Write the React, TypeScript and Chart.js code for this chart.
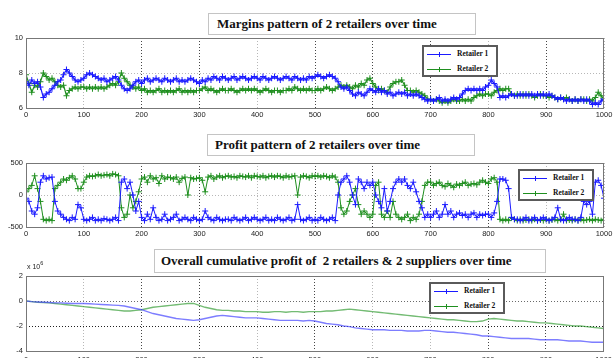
import React, { useEffect, useRef } from "react";
import { Chart, registerables } from "chart.js";
Chart.register(...registerables);

// ---------- data ----------
const SERIES_NAMES = ["Retailer 1", "Retailer 2"];
const TITLES = [
  "Margins pattern of 2 retailers over time",
  "Profit pattern of 2 retailers over time",
  "Overall cumulative profit of  2 retailers & 2 suppliers over time",
];
const X_TICKS = [0, 100, 200, 300, 400, 500, 600, 700, 800, 900, 1000];
const STEP_FAST = 5; // time step between samples (margins / profit)
const STEP_CUM = 10; // time step between samples (cumulative)

const marginR1 = [
  7.5, 7.3, 7.6, 7.4, 7.5, 7.2, 6.6, 6.8, 6.9, 7.1,
  7.3, 7.5, 7.6, 7.9, 8.2, 8.0, 7.8, 7.6, 7.5, 7.6,
  7.7, 7.9, 8.0, 7.9, 7.8, 7.7, 7.6, 7.7, 7.5, 7.6,
  7.7, 7.8, 7.6, 7.3, 7.1, 7.0, 7.1, 7.3, 7.5, 7.6,
  7.4, 7.6, 7.7, 7.5, 7.6, 7.7, 7.6, 7.5, 7.7, 7.6,
  7.5, 7.6, 7.7, 7.5, 7.6, 7.5, 7.6, 7.7, 7.6, 7.5,
  7.4, 7.6, 7.5, 7.7, 7.6, 7.8, 7.7, 7.6, 7.8, 7.7,
  7.6, 7.7, 7.8, 7.6, 7.7, 7.8, 7.7, 7.6, 7.7, 7.8,
  7.7, 7.6, 7.8, 7.7, 7.6, 7.7, 7.8, 7.7, 7.6, 7.7,
  7.8, 7.7, 7.6, 7.8, 7.7, 7.6, 7.7, 7.6, 7.8, 7.7,
  7.8, 7.9, 7.8, 7.7, 7.8, 7.9, 7.8, 7.7, 7.5, 7.2,
  7.1, 7.2, 7.0, 6.8, 6.7, 6.9, 6.8, 6.7, 6.9, 7.1,
  7.0, 6.9, 7.1, 6.9, 7.0, 6.8, 6.9, 6.7, 6.8, 6.9,
  6.8, 6.9, 6.7, 6.8, 6.7, 6.8, 6.7, 6.6, 6.5, 6.4,
  6.5, 6.4, 6.5, 6.6, 6.4, 6.5, 6.4, 6.5, 6.6, 6.5,
  6.6, 6.8, 7.0, 7.1, 7.0, 7.1, 7.0, 7.1, 7.0, 7.2,
  7.3, 7.6, 7.4, 7.2, 6.6, 6.7, 6.6, 6.7, 6.8, 6.7,
  6.7, 6.8, 6.7, 6.8, 6.7, 6.8, 6.7, 6.8, 6.7, 6.8,
  6.7, 6.8, 6.7, 6.6, 6.5, 6.6, 6.5, 6.4, 6.5, 6.4,
  6.5, 6.4, 6.5, 6.4, 6.5, 6.4, 6.2, 6.3, 6.2, 6.4,
  6.5,
];
const marginR2 = [
  7.9, 7.4, 6.9, 7.3, 7.2, 7.5, 8.0, 7.8, 7.6, 7.7,
  7.5, 7.3, 7.2, 7.3, 6.7, 7.0, 7.1, 7.2, 7.1, 7.2,
  7.2, 7.1, 7.2, 7.1, 7.2, 7.1, 7.2, 7.1, 7.2, 7.3,
  7.4, 7.3, 7.5, 8.0, 7.7, 7.5, 7.3, 7.2, 7.1, 7.2,
  7.0, 7.1, 6.9, 7.0, 6.9, 7.0, 7.1, 6.9, 7.0, 6.9,
  7.0, 6.9, 7.0, 7.1, 6.9, 7.0, 6.9, 7.0, 6.9, 7.0,
  7.0, 7.1, 7.2, 7.0, 7.1, 7.0, 6.9, 7.0, 7.1, 7.0,
  7.0, 7.1, 7.0, 6.9, 7.0, 7.1, 7.0, 7.1, 7.0, 7.1,
  7.0, 6.9, 7.0, 7.1, 7.0, 6.9, 7.0, 7.0, 6.9, 7.0,
  7.0, 7.1, 7.0, 7.2, 7.1, 7.0, 7.1, 7.0, 7.1, 7.0,
  7.0, 7.1, 7.0, 7.1, 7.2, 7.1, 7.0, 7.1, 7.2, 7.3,
  7.2, 7.3, 7.2, 7.1, 7.3, 7.2, 7.4, 7.3, 7.6, 7.7,
  7.4, 7.2, 7.0, 7.1, 7.0, 6.9, 7.2, 7.4, 7.5, 7.5,
  7.6, 7.3, 7.0, 7.0, 6.9, 7.0, 6.9, 6.8, 6.7, 6.5,
  6.5, 6.4, 6.5, 6.4, 6.3, 6.4, 6.3, 6.4, 6.5, 6.4,
  6.4, 6.5, 6.4, 6.5, 6.4, 6.6, 6.7, 6.8, 6.7, 6.8,
  6.8, 6.7, 6.9, 7.0, 7.1, 7.0, 7.1, 7.1, 6.8, 6.7,
  6.8, 6.7, 6.8, 6.7, 6.8, 6.7, 6.6, 6.7, 6.8, 6.7,
  6.7, 6.6, 6.7, 6.6, 6.5, 6.6, 6.5, 6.6, 6.5, 6.4,
  6.5, 6.4, 6.5, 6.5, 6.4, 6.5, 6.4, 6.6, 6.9, 6.7,
  6.5,
];

const profitR1 = [
  -50, -100, -250, -300, -200, 200, 300, 250, 270, 280,
  -100, -250, -300, -350, -380, -400, -350, -380, -150, -200,
  -380, -400, -380, -350, -400, -380, -400, -370, -380, -400,
  -380, -350, -400, 200, 250, 100, 200, 0, -250, -100,
  -350, -400, -300, -380, -200, -350, -400, -380, -300, -400,
  -380, -350, -300, -400, -380, -350, -380, -400, -350, -380,
  -400, -380, -250, -350, -380, -400, -350, -380, -400, -380,
  -380, -400, -350, -380, -400, -380, -350, -400, -380, -350,
  -380, -400, -380, -350, -400, -380, -400, -350, -380, -400,
  -380, -350, -400, -380, -150, -380, -400, -380, -350, -400,
  -380, -400, -350, -380, -400, -380, -350, -400, 0, 200,
  250, 300, 200, 0, -150, 250, 200, 100, 200, 150,
  200, 0, -100, -200, 100, -250, -100, 100, 200, 250,
  200, 250, 150, 100, 200, 50, -100, -200, -350, -300,
  -350, -300, -250, -350, -300, -150, -300, -250, -350, -300,
  -280, -320, -300, -350, -300, -280, -350, -300, -320, -300,
  -300, -350, -280, -100, 250, 250, 230, 100, -350, -380,
  -380, -400, -380, -350, -400, -380, -350, -400, -380, -350,
  -380, -400, -380, -350, -200, -380, -400, -380, -350, -380,
  -380, -400, -350, -100, -150, -100, -300, 200, 230, 150,
  -50,
];
const profitR2 = [
  50, 100, 150, 300, 100, -100, -380, -400, -380, -400,
  100, 150, 200, 250, 230, 270, 300, 250, 100, 100,
  200, 280, 300, 290, 300, 320, 300, 310, 320, 300,
  330, 320, 300, -200, -350, -300, 0, -200, -100, 50,
  250, 280, 200, 300, 250, 270, 180, 300, 250, 280,
  270, 250, 280, 200, 260, 280, 0, 270, 250, 260,
  270, 230, 50, 280, 300, 250, 280, 300, 270, 290,
  300, 280, 290, 270, 300, 290, 280, 300, 270, 300,
  290, 280, 300, 270, 290, 300, 280, 300, 290, 270,
  300, 280, 290, 300, 0, 280, 300, 290, 270, 300,
  290, 300, 280, 300, 290, 270, 300, 280, 200, -200,
  -300, -250, -100, 0, 100, -150, -300, -250, -300, -350,
  -300, 150, 200, -300, -350, -250, -350, -100, -300, -350,
  -380, -350, -300, -400, -350, -380, -300, -100, 150, 200,
  200, 150, 180, 200, 150, 130, 180, 150, 120, 170,
  150, 180, 200, 150, 170, 180, 160, 200, 230, 200,
  180, 250, 270, 200, -380, -400, -380, -400, -350, -380,
  -400, -380, -400, -390, -380, -400, -380, -400, -390, -400,
  -380, -400, -390, -380, -400, -380, -300, -400, -390, -400,
  -380, -400, -380, -400, -390, -380, -400, -380, -390, -400,
  -380,
];

// cumulative profit, in units of 1e6
const cumR1 = [
  0, -0.05, -0.08, -0.1, -0.12, -0.15, -0.15, -0.18, -0.2, -0.2,
  -0.2, -0.22, -0.25, -0.28, -0.3, -0.33, -0.35, -0.4, -0.5, -0.6,
  -0.7, -0.85, -1.0, -1.1, -1.2, -1.3, -1.4, -1.45, -1.5, -1.55,
  -1.5, -1.4, -1.3, -1.2, -1.15, -1.2, -1.25, -1.3, -1.35, -1.35,
  -1.35, -1.4, -1.45, -1.5, -1.55, -1.55, -1.55, -1.55, -1.6, -1.55,
  -1.6, -1.7, -1.8, -1.85, -1.9, -2.0, -2.05, -2.15, -2.2, -2.25,
  -2.3, -2.3, -2.3, -2.35, -2.35, -2.35, -2.4, -2.4, -2.4, -2.35,
  -2.35, -2.4, -2.45, -2.5, -2.5, -2.55, -2.6, -2.65, -2.7, -2.8,
  -2.8, -2.85, -2.9, -2.95, -3.0, -3.0, -3.0, -3.0, -3.05, -3.1,
  -3.1, -3.1, -3.1, -3.15, -3.2, -3.2, -3.2, -3.25, -3.3, -3.3,
  -3.3,
];
const cumR2 = [
  0, -0.05, -0.1, -0.12, -0.15, -0.2, -0.25, -0.3, -0.35, -0.4,
  -0.45, -0.5, -0.55, -0.6, -0.65, -0.7, -0.75, -0.8, -0.8, -0.75,
  -0.7, -0.6, -0.5, -0.45, -0.4, -0.35, -0.3, -0.25, -0.2, -0.2,
  -0.35, -0.5, -0.6, -0.7, -0.75, -0.75, -0.8, -0.8, -0.85, -0.85,
  -0.85, -0.9, -0.9, -0.85, -0.85, -0.9, -0.85, -0.85, -0.9, -0.85,
  -0.85, -0.85, -0.8, -0.8, -0.75, -0.7, -0.65, -0.7, -0.75, -0.8,
  -0.85, -0.9, -0.95, -1.0, -1.05, -1.1, -1.15, -1.2, -1.25, -1.3,
  -1.35, -1.4, -1.45, -1.5, -1.5, -1.55, -1.6, -1.65, -1.65, -1.6,
  -1.45, -1.4, -1.45, -1.5, -1.55, -1.6, -1.6, -1.65, -1.7, -1.75,
  -1.75, -1.8, -1.85, -1.9, -1.95, -2.0, -2.0, -2.05, -2.1, -2.15,
  -2.2,
];

// ---------- styling ----------
const BLUE = "#1a1aff";
const GREEN = "#1f8f1f";
const TICK_FONT = { family: "'Liberation Sans', Arial, sans-serif", size: 7.5 };
const DARK_GRID = "rgba(50,50,50,0.9)";
const LIGHT_GRID = "rgba(175,175,175,0.9)";

type Series = { data: number[]; step: number; color: string; markers: boolean; width: number };
type Panel = {
  top: number;
  height: number;
  padTop: number;
  xPad: number;
  yMin: number;
  yMax: number;
  yStep: number;
  darkX: number[];
  yGridColor: (v: number) => string;
  series: Series[];
};

const PANELS: Panel[] = [
  {
    top: 30, height: 90, padTop: 8, xPad: 2, yMin: 6, yMax: 10, yStep: 2,
    darkX: [200, 300, 500, 600, 700, 900],
    yGridColor: () => LIGHT_GRID,
    series: [
      { data: marginR1, step: STEP_FAST, color: BLUE, markers: true, width: 1.2 },
      { data: marginR2, step: STEP_FAST, color: GREEN, markers: true, width: 1.2 },
    ],
  },
  {
    top: 150, height: 89, padTop: 13, xPad: 2, yMin: -500, yMax: 500, yStep: 500,
    darkX: [200, 300, 500, 600, 700, 800],
    yGridColor: () => LIGHT_GRID,
    series: [
      { data: profitR1, step: STEP_FAST, color: BLUE, markers: true, width: 1 },
      { data: profitR2, step: STEP_FAST, color: GREEN, markers: true, width: 1 },
    ],
  },
  {
    top: 265, height: 98, padTop: 11, xPad: 4, yMin: -4, yMax: 2, yStep: 2,
    darkX: [200, 300, 500, 800, 900],
    yGridColor: (v) => (v === -2 ? "rgba(20,20,20,0.95)" : v === 0 ? "rgba(90,90,90,0.9)" : LIGHT_GRID),
    series: [
      { data: cumR1, step: STEP_CUM, color: "rgba(70,70,255,0.7)", markers: false, width: 1.3 },
      { data: cumR2, step: STEP_CUM, color: "rgba(40,150,40,0.65)", markers: false, width: 1.3 },
    ],
  },
];

const framePlugin = {
  id: "frame",
  afterDraw(chart: any) {
    const { ctx, chartArea: a } = chart;
    ctx.save();
    ctx.strokeStyle = "#777";
    ctx.lineWidth = 1;
    ctx.setLineDash([]);
    ctx.strokeRect(Math.round(a.left) + 0.5, Math.round(a.top) + 0.5, Math.round(a.right - a.left) - 1, Math.round(a.bottom - a.top));
    ctx.restore();
  },
};

function PanelChart({ panel }: { panel: Panel }) {
  const ref = useRef<HTMLCanvasElement | null>(null);
  useEffect(() => {
    if (!ref.current) return;
    const chart = new Chart(ref.current, {
      type: "line",
      data: {
        datasets: panel.series.map((s, k) => ({
          label: SERIES_NAMES[k],
          data: s.data.map((v, i) => ({ x: i * s.step, y: v })),
          borderColor: s.color,
          backgroundColor: s.color,
          borderWidth: s.width,
          pointStyle: "cross",
          pointRadius: s.markers ? 3 : 0,
          pointBorderWidth: 1,
          pointHoverRadius: 0,
          tension: 0,
          fill: false,
        })),
      },
      options: {
        animation: false,
        responsive: false,
        devicePixelRatio: 1,
        events: [],
        layout: { padding: { top: panel.padTop, right: 12, left: 0, bottom: 0 }, autoPadding: false },
        plugins: { legend: { display: false }, tooltip: { enabled: false }, title: { display: false } },
        scales: {
          x: {
            type: "linear",
            min: 0,
            max: 1000,
            afterFit: (s: any) => { s.height = 12; },
            afterBuildTicks: (s: any) => { s.ticks = X_TICKS.map((v) => ({ value: v })); },
            ticks: {
              padding: panel.xPad, font: TICK_FONT, color: "#222", maxRotation: 0, autoSkip: false,
              callback: (v: any) => String(v),
            },
            grid: {
              drawTicks: false,
              lineWidth: 1,
              color: (c: any) => (panel.darkX.includes(c.tick?.value) ? DARK_GRID : LIGHT_GRID),
            },
            border: { display: false, dash: [1, 2] },
          },
          y: {
            type: "linear",
            min: panel.yMin,
            max: panel.yMax,
            afterFit: (s: any) => { s.width = 26; },
            ticks: { stepSize: panel.yStep, padding: 3, font: TICK_FONT, color: "#222", callback: (v: any) => String(v) },
            grid: {
              drawTicks: false,
              lineWidth: 1,
              color: (c: any) => panel.yGridColor(c.tick?.value),
            },
            border: { display: false, dash: [1, 2] },
          },
        },
      },
      plugins: [framePlugin],
    } as any);
    return () => chart.destroy();
  }, [panel]);
  return (
    <canvas
      ref={ref}
      width={616}
      height={panel.height}
      style={{ position: "absolute", left: 0, top: panel.top, width: 616, height: panel.height }}
    />
  );
}

function TitleBox({ text, left, top, width, height, padLeft }: any) {
  return (
    <div
      style={{
        position: "absolute", left, top, width, height, boxSizing: "border-box",
        border: "1px solid #c4c4c4", background: "#fff",
        font: "bold 13px 'Liberation Serif', 'Times New Roman', serif",
        lineHeight: `${height - 2}px`, paddingLeft: padLeft, whiteSpace: "pre", color: "#111",
      }}
    >
      {text}
    </div>
  );
}

function LegendBox({ left, top }: { left: number; top: number }) {
  const colors = [BLUE, GREEN];
  return (
    <div
      style={{
        position: "absolute", left, top, width: 76, height: 32, boxSizing: "border-box",
        border: "2px solid #5a5a5a", background: "#fff",
      }}
    >
      {SERIES_NAMES.map((name, k) => {
        const cy = k === 0 ? 7 : 22;
        return (
          <React.Fragment key={name}>
            <div style={{ position: "absolute", left: 3, top: cy, width: 24, height: 1, background: colors[k] }} />
            <div style={{ position: "absolute", left: 13, top: cy, width: 5, height: 1, background: colors[k] }} />
            <div style={{ position: "absolute", left: 15, top: cy - 2, width: 1, height: 5, background: colors[k] }} />
            <div
              style={{
                position: "absolute", left: 33, top: cy - 5, height: 10, lineHeight: "10px",
                font: "bold 7.5px 'Liberation Serif', 'Times New Roman', serif", color: "#111", whiteSpace: "nowrap",
              }}
            >
              {name}
            </div>
          </React.Fragment>
        );
      })}
    </div>
  );
}

export default function App() {
  return (
    <div style={{ position: "absolute", left: 0, top: 0, width: 616, height: 358, overflow: "hidden", background: "#fff" }}>
      {PANELS.map((p, i) => (
        <PanelChart key={i} panel={p} />
      ))}
      <TitleBox text={TITLES[0]} left={208} top={13} width={268} height={22} padLeft={8} />
      <TitleBox text={TITLES[1]} left={207} top={134} width={268} height={22} padLeft={7} />
      <TitleBox text={TITLES[2]} left={154} top={249} width={392} height={24} padLeft={6} />
      <LegendBox left={422} top={45} />
      <LegendBox left={518} top={169} />
      <LegendBox left={429} top={282} />
      <div
        style={{
          position: "absolute", left: 27, top: 263, font: "7px 'Liberation Sans', Arial, sans-serif",
          color: "#222", whiteSpace: "nowrap",
        }}
      >
        x 10<sup style={{ fontSize: "5.5px", verticalAlign: "top", position: "relative", top: -3 }}>6</sup>
      </div>
    </div>
  );
}
